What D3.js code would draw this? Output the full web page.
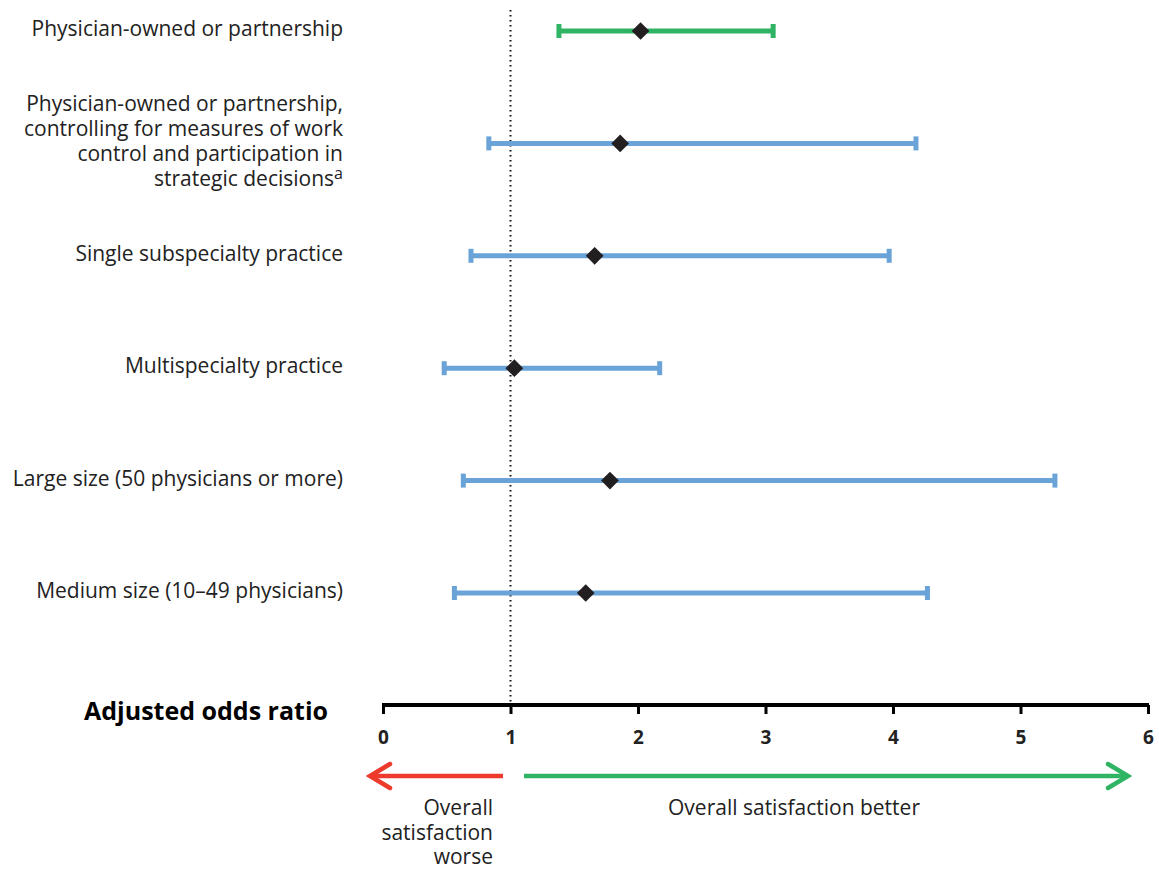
<!DOCTYPE html>
<html><head><meta charset="utf-8">
<script src="https://cdn.jsdelivr.net/npm/d3@7"></script>
<style>body{margin:0;background:#fff}svg{display:block}text{font-family:"Open Sans",sans-serif}</style>
</head><body>
<svg id="c" width="1159" height="871"></svg>
<script>
const labels = [
  ["Physician-owned or partnership"],
  ["Physician-owned or partnership,", "controlling for measures of work", "control and participation in", "strategic decisions"],
  ["Single subspecialty practice"],
  ["Multispecialty practice"],
  ["Large size (50 physicians or more)"],
  ["Medium size (10\u201349 physicians)"]
];
const superscripts = ["", "a", "", "", "", ""];
const oddsRatio = [2.02, 1.86, 1.66, 1.03, 1.78, 1.59];
const ciLow = [1.38, 0.83, 0.69, 0.48, 0.63, 0.56];
const ciHigh = [3.06, 4.18, 3.97, 2.17, 5.27, 4.27];
const highlight = [true, false, false, false, false, false];
const tickValues = [0, 1, 2, 3, 4, 5, 6];

const svg = d3.select("#c");
const x = d3.scaleLinear().domain([0, 6]).range([383, 1148]);
const y = d3.scalePoint().domain(d3.range(6)).range([31, 593]);
const green = "#2fb464", blue = "#6aa3d8", red = "#ee3a2c";
const fs = 21;

// reference line at 1
svg.append("line").attr("x1", x(1)).attr("x2", x(1)).attr("y1", 10).attr("y2", 703)
  .attr("stroke", "#111").attr("stroke-width", 2).attr("stroke-dasharray", "1.5,3.5");

// axis
const axisY = 705;
const ax = svg.append("g").attr("transform", `translate(0,${axisY})`)
  .call(d3.axisBottom(x).tickValues(tickValues).tickFormat(d3.format("d")).tickSize(9).tickSizeOuter(0).tickPadding(17));
ax.select(".domain").attr("stroke", "#000").attr("stroke-width", 4).attr("d", `M${x(0)-1},0H${x(6)+1}`);
ax.selectAll(".tick line").attr("stroke", "#000").attr("stroke-width", 3);
ax.selectAll(".tick text").attr("font-family", "Open Sans").attr("font-weight", "bold").attr("font-size", 19).attr("fill", "#222");

svg.append("text").attr("x", 328).attr("y", 720).attr("text-anchor", "end")
  .attr("font-size", 25).attr("font-weight", "bold").attr("fill", "#000").text("Adjusted odds ratio");

// rows
const rows = svg.append("g");
labels.forEach((lines, i) => {
  const cy = y(i);
  const col = highlight[i] ? green : blue;
  rows.append("line").attr("x1", x(ciLow[i])).attr("x2", x(ciHigh[i])).attr("y1", cy).attr("y2", cy)
    .attr("stroke", col).attr("stroke-width", 5);
  [ciLow[i], ciHigh[i]].forEach(v => {
    rows.append("rect").attr("x", x(v) - 2.5).attr("y", cy - 7).attr("width", 5).attr("height", 14).attr("fill", col);
  });
  rows.append("path").attr("d", d3.symbol(d3.symbolDiamond2, 200)())
    .attr("transform", `translate(${x(oddsRatio[i])},${cy})`).attr("fill", "#231f20");
  const lh = 25;
  const y0 = cy - (lines.length - 1) * lh / 2 + 5;
  const t = rows.append("text").attr("text-anchor", "end").attr("font-size", fs).attr("fill", "#222");
  lines.forEach((l, k) => {
    t.append("tspan").attr("x", 343).attr("y", y0 + k * lh).text(l);
    if (k === lines.length - 1 && superscripts[i]) {
      t.append("tspan").attr("font-size", 16).attr("dy", -7).text(superscripts[i]);
    }
  });
});

// direction arrows
const ay = 776;
function arrow(x1, x2, col) {
  const dir = Math.sign(x2 - x1);
  svg.append("line").attr("x1", x1).attr("x2", x2 - dir * 2).attr("y1", ay).attr("y2", ay)
    .attr("stroke", col).attr("stroke-width", 4.5);
  svg.append("path").attr("d", `M${x2 - dir * 20},${ay - 12}L${x2},${ay}L${x2 - dir * 20},${ay + 12}`)
    .attr("fill", "none").attr("stroke", col).attr("stroke-width", 4.5).attr("stroke-linecap", "round").attr("stroke-linejoin", "miter");
}
arrow(503, 370, red);
arrow(524, 1128, green);

const worse = ["Overall", "satisfaction", "worse"];
const tw = svg.append("text").attr("text-anchor", "end").attr("font-size", fs).attr("fill", "#222");
worse.forEach((l, k) => tw.append("tspan").attr("x", 493).attr("y", 815 + k * 24.5).text(l));
svg.append("text").attr("x", 794).attr("y", 815).attr("text-anchor", "middle").attr("font-size", fs).attr("fill", "#222")
  .text("Overall satisfaction better");
</script>
</body></html>
